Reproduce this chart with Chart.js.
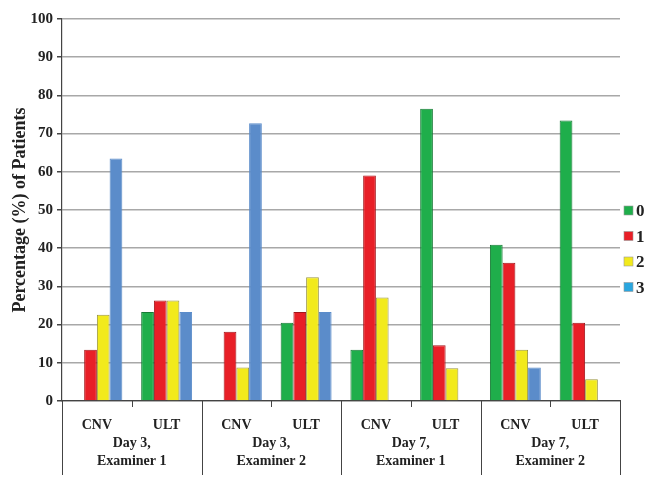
<!DOCTYPE html>
<html>
<head>
<meta charset="utf-8">
<style>
  html, body { margin: 0; padding: 0; background: #fff; }
  #wrap { width: 651px; height: 477px; }
</style>
</head>
<body>
<div id="wrap">
  <canvas id="chart_id"></canvas>
</div>
<script src="https://cdn.jsdelivr.net/npm/chart.js"></script>
<script>
  // categories & groups
  const categories = ['CNV', 'ULT', 'CNV', 'ULT', 'CNV', 'ULT', 'CNV', 'ULT'];
  const groups = [['Day 3,', 'Examiner 1'], ['Day 3,', 'Examiner 2'], ['Day 7,', 'Examiner 1'], ['Day 7,', 'Examiner 2']];

  // series values (percent of patients)
  const score0 = [0, 23.3, 0, 20.5, 13.4, 76.5, 40.9, 73.4];
  const score1 = [13.4, 26.3, 18.1, 23.3, 59.0, 14.6, 36.2, 20.5];
  const score2 = [22.6, 26.3, 8.8, 32.4, 27.1, 8.6, 13.4, 5.7];
  const score3 = [63.5, 23.3, 72.7, 23.3, 0, 0, 8.8, 0];
  const yTicks = [0, 10, 20, 30, 40, 50, 60, 70, 80, 90, 100];

  const serif = '"Liberation Serif", "DejaVu Serif", serif';

  const fills = ['#1fae4b', '#e81f27', '#f2ea1c', '#5b8cca'];
  const edges = ['#167a35', '#a3161b', '#9a9640', '#5b8cca'];
  const legendFills = ['#1fae4b', '#e81f27', '#f2ea1c', '#2aa6df'];

  // x axis group labels, separators and the legend
  const extras = {
    id: 'extras',
    afterDraw(chart) {
      const ctx = chart.ctx;
      const x = chart.scales.x;
      const bottom = chart.chartArea.bottom;
      const step = x.getPixelForValue(1) - x.getPixelForValue(0);
      ctx.save();
      ctx.strokeStyle = '#444';
      ctx.lineWidth = 1;
      for (let i = 0; i <= categories.length; i++) {
        const px = Math.round(x.getPixelForValue(0) - step / 2 + i * step) + 0.5;
        const len = (i % 2 === 0) ? 74 : 6;
        ctx.beginPath();
        ctx.moveTo(px, bottom);
        ctx.lineTo(px, bottom + len);
        ctx.stroke();
      }
      ctx.fillStyle = '#222';
      ctx.font = 'bold 14px ' + serif;
      ctx.textAlign = 'center';
      ctx.textBaseline = 'middle';
      groups.forEach((g, i) => {
        const cx = (x.getPixelForValue(i * 2) + x.getPixelForValue(i * 2 + 1)) / 2;
        ctx.fillText(g[0], cx, bottom + 42);
        ctx.fillText(g[1], cx, bottom + 60);
      });
      // legend
      const names = chart.data.datasets.map(d => d.label);
      ctx.font = 'bold 17px ' + serif;
      ctx.textAlign = 'left';
      names.forEach((n, i) => {
        const y = 211 + i * 25.5;
        ctx.fillStyle = legendFills[i];
        ctx.fillRect(624, y - 5, 9, 9);
        ctx.strokeStyle = '#999';
        ctx.lineWidth = 0.6;
        ctx.strokeRect(624, y - 5, 9, 9);
        ctx.fillStyle = '#222';
        ctx.fillText(n, 636, y + 1);
      });
      ctx.restore();
    }
  };

  const chartCanvas = document.getElementById('chart_id');
  new Chart(chartCanvas, {
    type: 'bar',
    data: {
      labels: categories,
      datasets: [score0, score1, score2, score3].map((d, i) => ({
        label: String(i),
        data: d,
        backgroundColor: fills[i],
        borderColor: edges[i],
        borderWidth: 1,
        categoryPercentage: 0.73,
        barPercentage: 1
      }))
    },
    options: {
      responsive: true,
      maintainAspectRatio: false,
      animation: false,
      layout: { padding: { top: 19, right: 31, left: 10, bottom: 0 } },
      plugins: {
        legend: { display: false },
        tooltip: { enabled: false }
      },
      scales: {
        x: {
          grid: { display: false },
          border: { display: true, color: '#444', width: 1.2 },
          ticks: {
            padding: 8,
            color: '#222',
            font: { family: serif, size: 14, weight: 'bold' }
          },
          afterFit(s) { s.height = 76; }
        },
        y: {
          min: 0,
          max: 100,
          afterBuildTicks(s) { s.ticks = yTicks.map(v => ({ value: v })); },
          grid: { color: '#a8a8a8', lineWidth: 1.5, tickLength: 5, tickColor: '#444' },
          border: { display: true, color: '#444', width: 1.2 },
          ticks: {
            padding: 4,
            color: '#222',
            font: { family: serif, size: 15, weight: 'bold' }
          },
          title: {
            display: true,
            text: 'Percentage (%) of Patients',
            color: '#222',
            padding: { top: 0, bottom: 2 },
            font: { family: serif, size: 18, weight: 'bold' }
          },
          afterFit(s) { s.width = 52; }
        }
      }
    },
    plugins: [extras]
  });
</script>
</body>
</html>
